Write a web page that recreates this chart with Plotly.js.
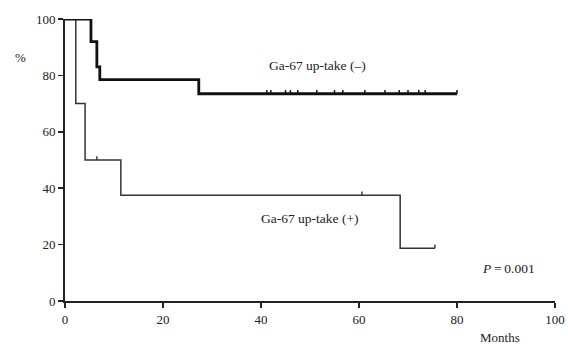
<!DOCTYPE html>
<html><head><meta charset="utf-8">
<script src="https://cdn.plot.ly/plotly-3.0.1.min.js"></script>
<style>html,body{margin:0;padding:0;background:#fff;}#chart{width:568px;height:344px;}</style>
</head><body><div id="chart"></div>
<script>
// Ga-67 up-take (-) group: step times and survival (%)
const negTimes = [0, 5.3, 6.5, 7.1, 27.3, 80];
const negSurv  = [100, 92, 83, 78.5, 73.5, 73.5];
const negCensor = [41.2, 42, 45, 46, 47.5, 51.4, 55, 56.7, 61.2, 65.3, 68.2, 70, 72.2, 73.5, 80];
// Ga-67 up-take (+) group
const posTimes = [0, 2.2, 4.1, 11.4, 68.4, 75.5];
const posSurv  = [100, 70, 50, 37.5, 18.75, 18.75];
const posCensor = [6.5, 60.6, 75.5];
const xTicks = [0, 20, 40, 60, 80, 100];
const yTicks = [0, 20, 40, 60, 80, 100];

function survAt(times, surv, t){
  let v = surv[0];
  for (let i = 0; i < times.length; i++) if (times[i] <= t) v = surv[i];
  return v;
}
function tickTrace(times, surv, cens, w, c){
  const xs = [], ys = [];
  cens.forEach(t => { const v = survAt(times, surv, t); xs.push(t, t, null); ys.push(v, v + 1.3, null); });
  return {x: xs, y: ys, mode: 'lines', line: {color: c, width: w}, hoverinfo: 'skip', showlegend: false};
}

const data = [
  {x: posTimes, y: posSurv, mode: 'lines', line: {shape: 'hv', color: '#333', width: 1.5}, showlegend: false},
  tickTrace(posTimes, posSurv, posCensor, 1.4, '#333'),
  {x: negTimes, y: negSurv, mode: 'lines', line: {shape: 'hv', color: '#111', width: 2.8}, showlegend: false},
  tickTrace(negTimes, negSurv, negCensor, 1.5, '#111')
];

const fam = 'Liberation Serif, Times New Roman, serif';
const f = {family: fam, size: 13, color: '#222'};
const layout = {
  width: 568, height: 344,
  margin: {l: 65, r: 13, t: 19, b: 43},
  paper_bgcolor: '#fff', plot_bgcolor: '#fff',
  font: f,
  xaxis: {range: [0, 100], tickvals: xTicks, ticktext: xTicks.map(String), ticks: 'outside', ticklen: 5, tickwidth: 1.6,
          tickcolor: '#222', showline: true, linecolor: '#222', linewidth: 2, showgrid: false, zeroline: false, fixedrange: true},
  yaxis: {range: [0, 100], tickvals: yTicks, ticktext: yTicks.map(String), ticks: 'outside', ticklen: 5, tickwidth: 1.6,
          tickcolor: '#222', showline: true, linecolor: '#222', linewidth: 2, showgrid: false, zeroline: false, fixedrange: true},
  annotations: [
    {text: 'Ga-67 up-take (–)', x: 51.6, y: 83.5, xref: 'x', yref: 'y', showarrow: false, font: {family: fam, size: 13.5, color: '#222'}},
    {text: 'Ga-67 up-take (+)', x: 50, y: 29.4, xref: 'x', yref: 'y', showarrow: false, font: {family: fam, size: 13.5, color: '#222'}},
    {text: '<i>P</i>\u2009=\u20090.001', x: 90.5, y: 11.7, xref: 'x', yref: 'y', showarrow: false, font: {family: fam, size: 13.5, color: '#222'}},
    {text: '%', x: 0, y: 0, xref: 'paper', yref: 'paper', showarrow: false, font: {family: fam, size: 13, color: '#222'}},
    {text: 'Months', x: 0, y: 0, xref: 'paper', yref: 'paper', xanchor: 'center', yanchor: 'middle', showarrow: false, font: {family: fam, size: 13, color: '#222'}}
  ]
};
layout.annotations[3].x = (13 - 65) / 490; layout.annotations[3].y = (301 - 48) / 282;
layout.annotations[4].x = (500 - 65) / 490; layout.annotations[4].y = (301 - 337) / 282;
Plotly.newPlot('chart', data, layout, {displayModeBar: false, staticPlot: true});
</script></body></html>
